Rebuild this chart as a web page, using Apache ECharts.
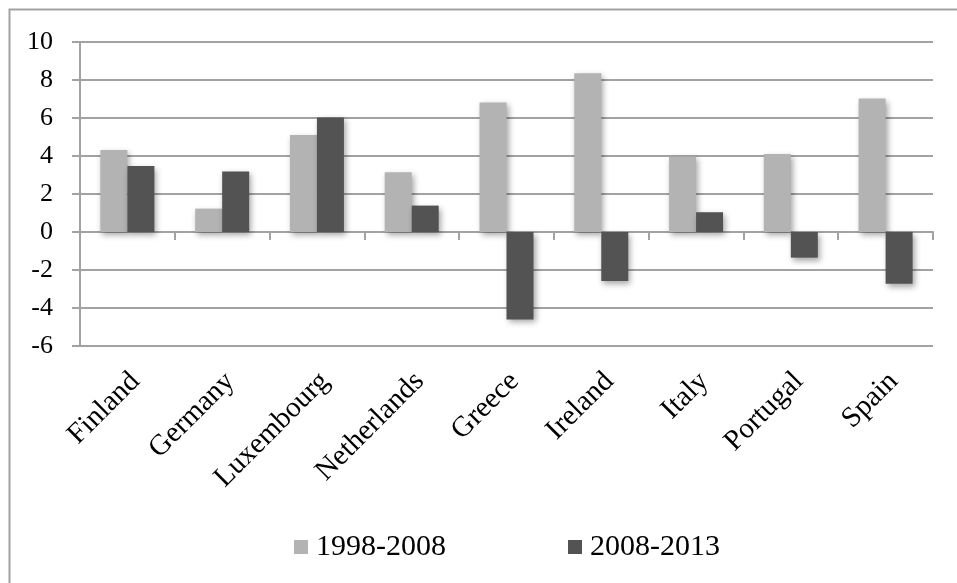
<!DOCTYPE html>
<html>
<head>
<meta charset="utf-8">
<script src="https://cdn.jsdelivr.net/npm/echarts@6/dist/echarts.min.js"></script>
<style>
  html, body { margin: 0; padding: 0; background: #fff; }
  #chart { width: 957px; height: 583px; }
</style>
</head>
<body>
<div id="chart"></div>
<script>
// Average annual change by country, two periods
const countries = ['Finland', 'Germany', 'Luxembourg', 'Netherlands', 'Greece', 'Ireland', 'Italy', 'Portugal', 'Spain'];
const period1Name = '1998-2008';
const period2Name = '2008-2013';
const period1 = [4.32, 1.23, 5.1, 3.14, 6.82, 8.35, 3.98, 4.1, 7.02];
const period2 = [3.47, 3.19, 6.03, 1.39, -4.6, -2.58, 1.04, -1.35, -2.72];
const yTicks = { min: -6, max: 10, step: 2 };

const FONT = '"Liberation Serif", "Times New Roman", serif';
const GRID_COLOR = '#a2a2a2';
const LIGHT = '#b3b3b3';
const DARK = '#535353';

const plot = { left: 80, right: 24, top: 42, bottom: 237 };
const labelShift = 8;

const barShadow = {
  shadowBlur: 6,
  shadowColor: 'rgba(0,0,0,0.35)',
  shadowOffsetX: 2,
  shadowOffsetY: 3
};

const chart = echarts.init(document.getElementById('chart'), null, { renderer: 'canvas' });

chart.setOption({
  animation: false,
  backgroundColor: '#ffffff',
  graphic: [{
    type: 'rect',
    left: 7, top: 7,
    shape: { width: 1000, height: 1000 },
    style: { fill: 'none', stroke: GRID_COLOR, lineWidth: 2 },
    silent: true
  }],
  grid: [
    { left: plot.left, right: plot.right, top: plot.top, bottom: plot.bottom, containLabel: false },
    { left: plot.left + labelShift, right: plot.right - labelShift, top: plot.top, bottom: plot.bottom, containLabel: false }
  ],
  legend: {
    left: 289,
    top: 527,
    itemWidth: 14,
    itemHeight: 14,
    itemGap: 122,
    icon: 'rect',
    textStyle: { fontFamily: FONT, fontSize: 30, color: '#000', padding: [0, 0, 0, 3] },
    data: [period1Name, period2Name]
  },
  xAxis: [
    {
      // zero line with boundary ticks
      type: 'category',
      gridIndex: 0,
      data: countries,
      boundaryGap: true,
      axisLine: { onZero: true, lineStyle: { color: GRID_COLOR, width: 2 } },
      axisTick: { show: true, length: 8, lineStyle: { color: GRID_COLOR, width: 2 } },
      axisLabel: { show: false },
      splitLine: { show: false }
    },
    {
      // category names along the bottom of the plot
      type: 'category',
      gridIndex: 1,
      position: 'bottom',
      data: countries,
      boundaryGap: true,
      axisLine: { show: false, onZero: false },
      axisTick: { show: false },
      axisLabel: {
        rotate: 45,
        margin: 31,
        interval: 0,
        fontFamily: FONT,
        fontSize: 29,
        color: '#000'
      },
      splitLine: { show: false }
    }
  ],
  yAxis: [
    {
      type: 'value',
      gridIndex: 0,
      min: yTicks.min,
      max: yTicks.max,
      interval: yTicks.step,
      axisLine: { show: true, lineStyle: { color: GRID_COLOR, width: 2 } },
      axisTick: { show: true, length: 8, lineStyle: { color: GRID_COLOR, width: 2 } },
      axisLabel: { margin: 27, fontFamily: FONT, fontSize: 26, color: '#000' },
      splitLine: { show: true, lineStyle: { color: GRID_COLOR, width: 2 } }
    },
    {
      type: 'value',
      gridIndex: 1,
      show: false
    }
  ],
  series: [
    {
      name: period1Name,
      type: 'bar',
      xAxisIndex: 0,
      yAxisIndex: 0,
      data: period1,
      barWidth: 27,
      barGap: '0%',
      itemStyle: Object.assign({ color: LIGHT }, barShadow)
    },
    {
      name: period2Name,
      type: 'bar',
      xAxisIndex: 0,
      yAxisIndex: 0,
      data: period2,
      barWidth: 27,
      barGap: '0%',
      itemStyle: Object.assign({ color: DARK }, barShadow)
    }
  ]
});
</script>
</body>
</html>
